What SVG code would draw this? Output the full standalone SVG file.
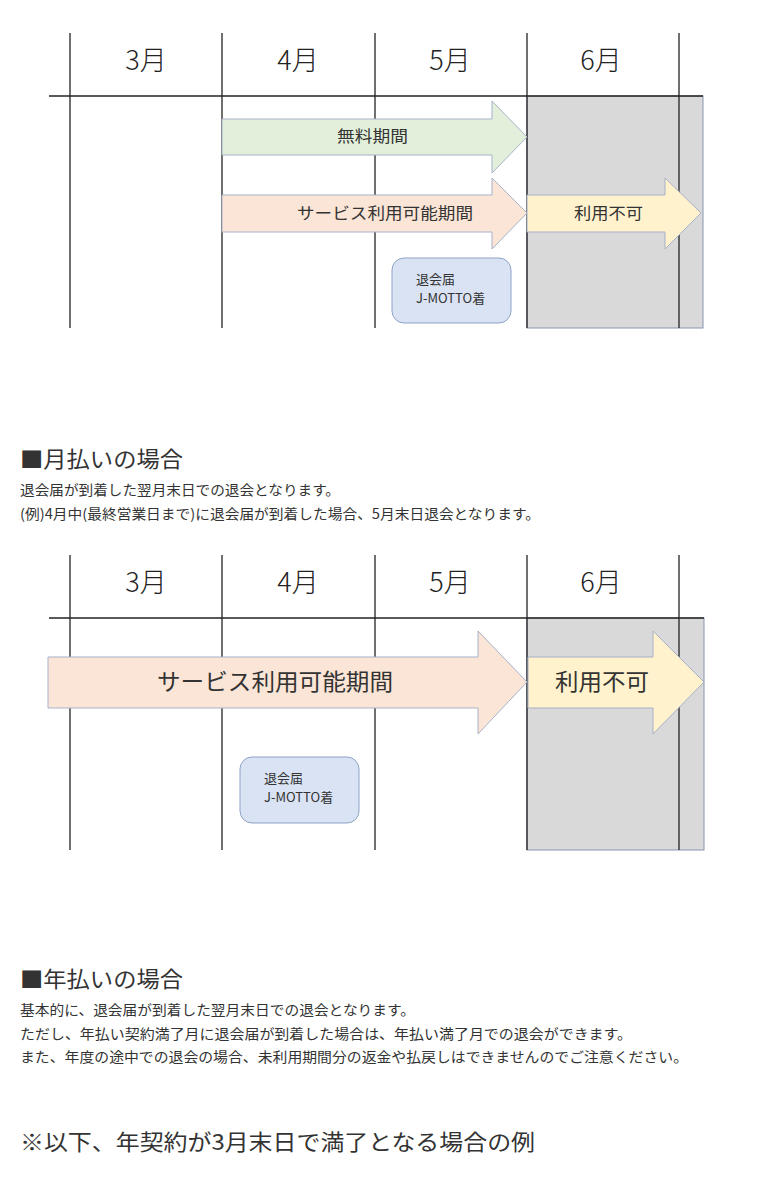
<svg xmlns="http://www.w3.org/2000/svg" width="765" height="1180" viewBox="0 0 765 1180">
<style>
text{font-family:"Noto Sans CJK JP","Noto Sans",sans-serif;fill:#333}
.m{font-size:27px;text-anchor:middle;fill:#222;font-weight:300}
.g{stroke:#222;stroke-width:1.3}
.gray{fill:#d9d9d9;stroke:#8a94b0;stroke-width:1}
.ar{stroke:#a7b2c8;stroke-width:1}
.note{fill:#dae3f3;stroke:#8fa3c7;stroke-width:1}
.s{font-size:13px}
.h{font-size:22px}
.p{font-size:14px}
</style>
<rect width="765" height="1180" fill="#fff"/>
<g id="chart1">
<rect class="gray" x="527" y="96" width="176" height="232"/>
<g class="g"><line x1="70" y1="33" x2="70" y2="328"/><line x1="222" y1="33" x2="222" y2="328"/><line x1="375" y1="33" x2="375" y2="328"/><line x1="527" y1="33" x2="527" y2="328"/><line x1="679" y1="33" x2="679" y2="328"/><line x1="49" y1="96" x2="703" y2="96"/></g>
<text class="m" x="146" y="70">3月</text><text class="m" x="298" y="70">4月</text><text class="m" x="450" y="70">5月</text><text class="m" x="601" y="70">6月</text>
<g id="a1"><path class="ar" fill="#e2efda" d="M222,119H492V101L527,137L492,173V155H222Z"/><text x="337" y="142" font-size="16" textLength="71" lengthAdjust="spacingAndGlyphs">無料期間</text></g>
<g id="a2"><path class="ar" fill="#fbe5d6" d="M222,195H492V178L527,213L492,249V232H222Z"/><text x="297" y="219" font-size="16" textLength="176" lengthAdjust="spacingAndGlyphs">サービス利用可能期間</text></g>
<g id="a3"><path class="ar" fill="#fff2cc" d="M527,195H665V178L701,213L665,249V232H527Z"/><text x="574" y="219" font-size="16" textLength="69" lengthAdjust="spacingAndGlyphs">利用不可</text></g>
<g id="n1"><rect class="note" x="392" y="258" width="119" height="65" rx="12"/><text class="s" x="416" y="284">退会届</text><text class="s" x="416" y="303">J-MOTTO着</text></g>
</g>
<text class="h" x="20" y="467" textLength="163" lengthAdjust="spacingAndGlyphs">■月払いの場合</text>
<text class="p" x="20" y="495" textLength="320" lengthAdjust="spacingAndGlyphs">退会届が到着した翌月末日での退会となります。</text>
<text class="p" x="20" y="519" textLength="520" lengthAdjust="spacingAndGlyphs">(例)4月中(最終営業日まで)に退会届が到着した場合、5月末日退会となります。</text>
<g id="chart2">
<rect class="gray" x="527" y="618" width="177" height="232"/>
<g class="g"><line x1="70" y1="555" x2="70" y2="850"/><line x1="222" y1="555" x2="222" y2="850"/><line x1="375" y1="555" x2="375" y2="850"/><line x1="527" y1="555" x2="527" y2="850"/><line x1="679" y1="555" x2="679" y2="850"/><line x1="49" y1="618" x2="704" y2="618"/></g>
<text class="m" x="146" y="592">3月</text><text class="m" x="298" y="592">4月</text><text class="m" x="450" y="592">5月</text><text class="m" x="601" y="592">6月</text>
<g id="b1"><path class="ar" fill="#fbe5d6" d="M48,657H478V631L527,682L478,734V708H48Z"/><text x="157" y="690" font-size="23" textLength="236" lengthAdjust="spacingAndGlyphs">サービス利用可能期間</text></g>
<g id="b2"><path class="ar" fill="#fff2cc" d="M528,657H653V631L704,682L653,734V708H528Z"/><text x="555" y="690" font-size="23" textLength="94" lengthAdjust="spacingAndGlyphs">利用不可</text></g>
<g id="n2"><rect class="note" x="240" y="757" width="119" height="66" rx="12"/><text class="s" x="264" y="783">退会届</text><text class="s" x="264" y="802">J-MOTTO着</text></g>
</g>
<text class="h" x="20" y="987" textLength="163" lengthAdjust="spacingAndGlyphs">■年払いの場合</text>
<text class="p" x="20" y="1015" textLength="395" lengthAdjust="spacingAndGlyphs">基本的に、退会届が到着した翌月末日での退会となります。</text>
<text class="p" x="20" y="1039" textLength="612" lengthAdjust="spacingAndGlyphs">ただし、年払い契約満了月に退会届が到着した場合は、年払い満了月での退会ができます。</text>
<text class="p" x="20" y="1062" textLength="668" lengthAdjust="spacingAndGlyphs">また、年度の途中での退会の場合、未利用期間分の返金や払戻しはできませんのでご注意ください。</text>
<text class="h" x="20" y="1150" textLength="515" lengthAdjust="spacingAndGlyphs">※以下、年契約が3月末日で満了となる場合の例</text>
</svg>
